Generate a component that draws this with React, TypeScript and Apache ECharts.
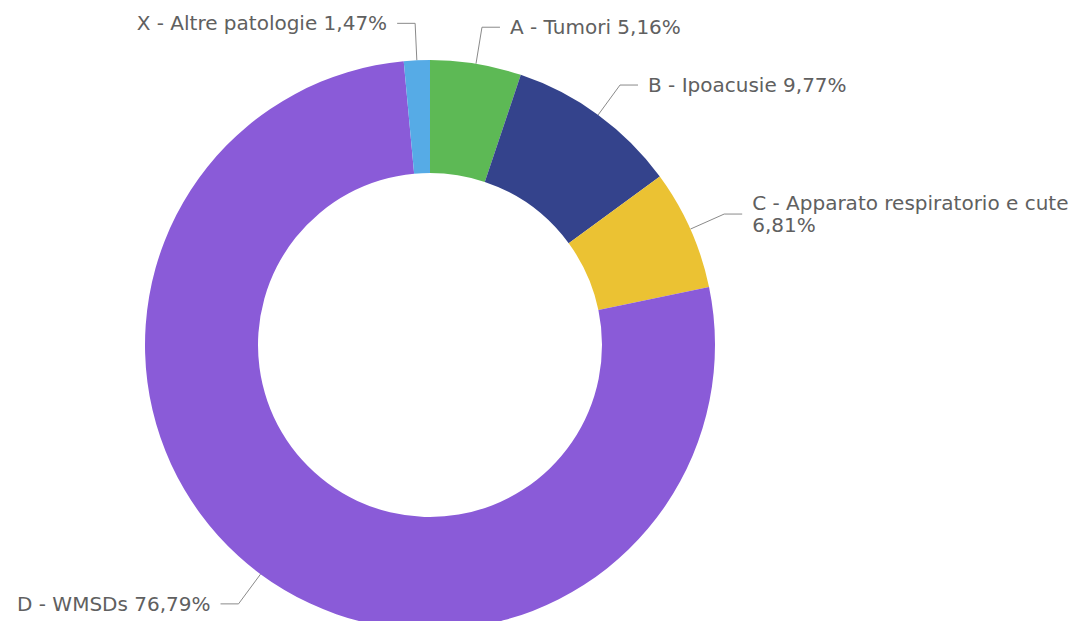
import React, { useEffect, useRef } from "react";
import * as echarts from "echarts";

const categories = [
  "A - Tumori",
  "B - Ipoacusie",
  "C - Apparato respiratorio e cute",
  "D - WMSDs",
  "X - Altre patologie",
];
const values = [5.16, 9.77, 6.81, 76.79, 1.47];
const colors = ["#5DB955", "#34438C", "#EBC233", "#8A5BD8", "#56ABE6"];
const wrapLabel = [false, false, true, false, false];

export default function App() {
  const ref = useRef<HTMLDivElement>(null);
  useEffect(() => {
    if (!ref.current) return;
    const chart = echarts.init(ref.current, null, { renderer: "svg" });
    const fmt = (v: number) => v.toFixed(2).replace(".", ",") + "%";
    chart.setOption({
      animation: false,
      backgroundColor: "#ffffff",
      series: [
        {
          type: "pie",
          center: [430, 345],
          radius: [172, 285],
          startAngle: 90,
          clockwise: true,
          avoidLabelOverlap: false,
          label: {
            show: true,
            position: "outside",
            color: "#606060",
            fontFamily: "DejaVu Sans",
            fontSize: 20,
            lineHeight: 22,
            distanceToLabelLine: 10,
            formatter: (p: any) =>
              wrapLabel[p.dataIndex]
                ? `${p.name}\n${fmt(p.value)}`
                : `${p.name} ${fmt(p.value)}`,
          },
          labelLine: {
            show: true,
            length: 37,
            length2: 18,
            lineStyle: { color: "#8a8a8a", width: 1 },
          },
          data: categories.map((c, i) => ({
            name: c,
            value: values[i],
            itemStyle: { color: colors[i] },
          })),
        },
      ],
    });
    return () => chart.dispose();
  }, []);
  return (
    <div
      ref={ref}
      style={{ position: "fixed", left: 0, top: 0, width: 1076, height: 621 }}
    />
  );
}
